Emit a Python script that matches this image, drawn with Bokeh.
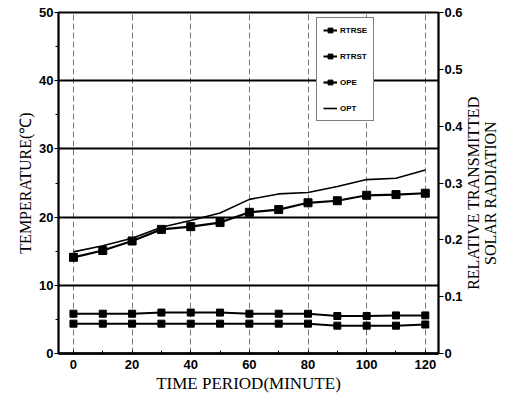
import math
from bokeh.plotting import figure
from bokeh.layouts import row
from bokeh.models import (Range1d, LinearAxis, FixedTicker, Legend, LegendItem, ColumnDataSource)
from bokeh.core.properties import value
from bokeh.embed import file_html
from bokeh.resources import INLINE

# ---- data ----
time_min = [0, 10, 20, 30, 40, 50, 60, 70, 80, 90, 100, 110, 120]
ope = [14.1, 15.1, 16.5, 18.2, 18.6, 19.2, 20.7, 21.1, 22.1, 22.4, 23.2, 23.3, 23.5]
opt = [14.9, 15.8, 16.9, 18.5, 19.5, 20.6, 22.6, 23.4, 23.6, 24.5, 25.5, 25.7, 26.9]
rtrse = [0.070, 0.070, 0.070, 0.072, 0.072, 0.072, 0.070, 0.070, 0.070, 0.066, 0.066, 0.067, 0.067]
rtrst = [0.0525, 0.0525, 0.0525, 0.0525, 0.0525, 0.0525, 0.0525, 0.0525, 0.0525, 0.049, 0.049, 0.049, 0.051]

x_ticks = [0, 20, 40, 60, 80, 100, 120]
x_minor = [10, 30, 50, 70, 90, 110]
temp_ticks = [0, 10, 20, 30, 40, 50]
temp_minor = [5, 15, 25, 35, 45]
rad_ticks = [0, 0.1, 0.2, 0.3, 0.4, 0.5, 0.6]
rad_labels = ["0", "0.1", "0.2", "0.3", "0.4", "0.5", "0.6"]
right_title = "RELATIVE TRANSMITTED\nSOLAR RADIATION"

src = ColumnDataSource(dict(t=time_min, ope=ope, opt=opt, rtrse=rtrse, rtrst=rtrst))

TICK_FONT = "Liberation Sans"
TITLE_FONT = "Liberation Serif"
H = 402

p = figure(width=466, height=H, output_backend="svg", toolbar_location=None,
           x_range=Range1d(-5.1, 124.5), y_range=Range1d(0, 50),
           min_border_left=58, min_border_right=28, min_border_top=12, min_border_bottom=49)
p.extra_y_ranges = {"rad": Range1d(0, 0.6)}

p.background_fill_color = "white"
p.border_fill_color = "white"
p.outline_line_color = "black"
p.outline_line_width = 2

# grids
p.xgrid.ticker = FixedTicker(ticks=x_ticks)
p.xgrid.grid_line_color = "#555555"
p.xgrid.grid_line_dash = "6 3"
p.xgrid.grid_line_width = 0.8
p.ygrid.ticker = FixedTicker(ticks=[10, 20, 30, 40])
p.ygrid.grid_line_color = "black"
p.ygrid.grid_line_width = 2

def style_axis(ax):
    ax.axis_label_text_font = TITLE_FONT
    ax.axis_label_text_font_style = "normal"
    ax.axis_label_text_color = "black"
    ax.major_label_text_font = TICK_FONT
    ax.major_label_text_font_style = "bold"
    ax.major_label_text_font_size = "13px"
    ax.major_label_text_color = "black"
    ax.axis_line_color = "black"
    ax.major_tick_line_color = "black"
    ax.minor_tick_line_color = "black"

# x axis
xa = p.xaxis[0]
style_axis(xa)
xa.ticker = FixedTicker(ticks=x_ticks, minor_ticks=x_minor)
xa.axis_label = "TIME PERIOD(MINUTE)"
xa.axis_label_text_font_size = "17px"
xa.axis_label_standoff = 2
xa.axis_line_width = 2.5
xa.major_tick_in = 3
xa.major_tick_out = 0
xa.minor_tick_in = 3
xa.minor_tick_out = 0
xa.major_label_standoff = 6

# left axis
ya = p.yaxis[0]
style_axis(ya)
ya.ticker = FixedTicker(ticks=temp_ticks, minor_ticks=temp_minor)
ya.axis_label = "TEMPERATURE(℃)"
ya.axis_label_text_font_size = "16px"
ya.axis_label_standoff = 2
ya.axis_line_width = 1.5
ya.major_tick_out = 4
ya.major_tick_in = 0
ya.minor_tick_out = 3
ya.minor_tick_in = 0
ya.major_label_standoff = 1

# right axis
ra = LinearAxis(y_range_name="rad")
style_axis(ra)
ra.ticker = FixedTicker(ticks=rad_ticks, minor_ticks=[])
ra.major_label_overrides = {t: l for t, l in zip(rad_ticks, rad_labels)}
ra.axis_line_width = 1.5
ra.major_tick_out = 5
ra.major_tick_in = 0
ra.major_label_standoff = 1
p.add_layout(ra, "right")

# series
l_rse = p.line("t", "rtrse", source=src, y_range_name="rad", line_color="black", line_width=2)
m_rse = p.scatter("t", "rtrse", source=src, y_range_name="rad", marker="square", size=7,
                  fill_color="black", line_color="black")
l_rst = p.line("t", "rtrst", source=src, y_range_name="rad", line_color="black", line_width=2)
m_rst = p.scatter("t", "rtrst", source=src, y_range_name="rad", marker="square", size=7,
                  fill_color="black", line_color="black")
l_ope = p.line("t", "ope", source=src, line_color="black", line_width=2.2)
m_ope = p.scatter("t", "ope", source=src, marker="square", size=8,
                  fill_color="black", line_color="black")
l_opt = p.line("t", "opt", source=src, line_color="black", line_width=1.6)

legend = Legend(items=[
    LegendItem(label="RTRSE", renderers=[l_rse, m_rse]),
    LegendItem(label="RTRST", renderers=[l_rst, m_rst]),
    LegendItem(label="OPE", renderers=[l_ope, m_ope]),
    LegendItem(label="OPT", renderers=[l_opt]),
], location=(258, 232))
legend.label_text_font = TICK_FONT
legend.label_text_font_style = "bold"
legend.label_text_font_size = "8px"
legend.label_text_color = "black"
legend.glyph_width = 14
legend.glyph_height = 12
legend.label_height = 12
legend.spacing = 14
legend.padding = 6
legend.margin = 0
legend.label_standoff = 3
legend.border_line_color = "black"
legend.border_line_width = 1.5
legend.background_fill_alpha = 1
p.add_layout(legend, "center")

# narrow side panel that carries the right-hand axis title (reads bottom to top)
side = figure(width=40, height=H, output_backend="svg", toolbar_location=None,
              x_range=Range1d(0, 40), y_range=Range1d(H, 0),
              min_border=0)
side.axis.visible = False
side.grid.visible = False
side.outline_line_color = None
side.background_fill_color = "white"
side.border_fill_color = "white"
side.text(x=[15], y=[213], text=[right_title], angle=math.pi / 2,
          text_align="center", text_baseline="middle",
          text_font=value(TITLE_FONT), text_font_size="16px", text_color="black",
          text_line_height=1.0)

layout = row(p, side, spacing=0)
open("out.html", "w").write(file_html(layout, INLINE))
